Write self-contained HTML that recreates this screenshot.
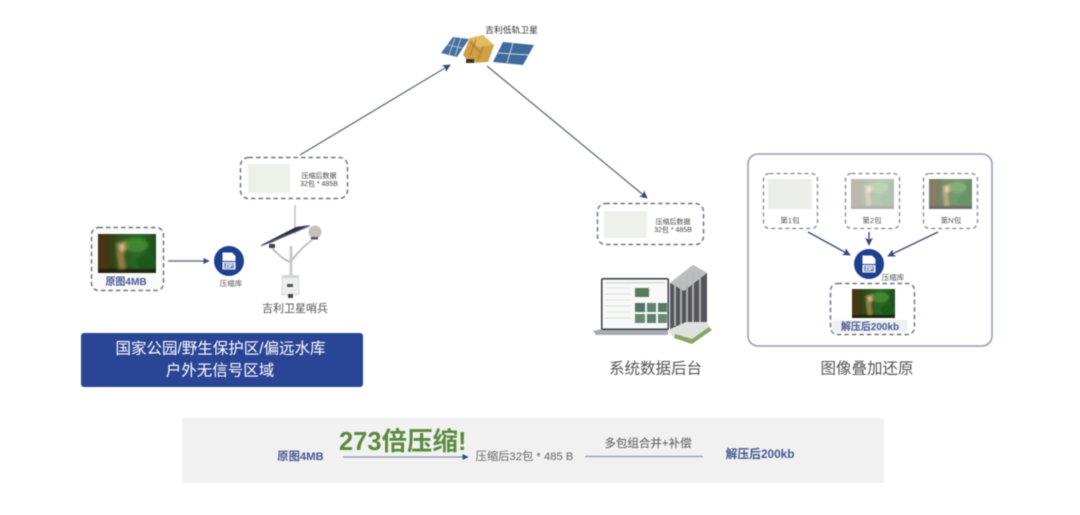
<!DOCTYPE html>
<html lang="zh">
<head>
<meta charset="utf-8">
<title>吉利低轨卫星图像压缩传输</title>
<style>
html,body{margin:0;padding:0;background:#fff;width:1080px;height:515px;overflow:hidden}
svg{display:block;filter:blur(.5px)}
text{font-family:"Liberation Sans","Noto Sans CJK SC",sans-serif}
</style>
</head>
<body>
<svg xmlns="http://www.w3.org/2000/svg" width="1080" height="515" viewBox="0 0 1080 515">
<defs>
<linearGradient id="fg" x1="0" x2="1" y1="0" y2="0">
<stop offset="0" stop-color="#2c2a12"/><stop offset=".35" stop-color="#33501a"/><stop offset=".7" stop-color="#2a6a26"/><stop offset="1" stop-color="#1d4d1c"/>
</linearGradient>
<filter id="b1"><feGaussianBlur stdDeviation="1.200"/></filter>
<symbol id="forest" viewBox="0 0 58 39" preserveAspectRatio="none">
<rect width="58" height="39" fill="url(#fg)"/>
<g filter="url(#b1)">
<rect x="0" y="0" width="11" height="39" fill="#4a3616"/>
<ellipse cx="38" cy="11" rx="12" ry="7" fill="#43862f"/>
<ellipse cx="48" cy="28" rx="10" ry="7" fill="#1d5a1e"/>
<path d="M18 9L28 6L30 14L26 20L28 34L21 36L19 22Z" fill="#8f7a42"/>
<path d="M21 11l5-2 1 6-4 3z" fill="#c9bb88"/>
<rect x="0" y="35" width="58" height="4" fill="#1a1a0c"/>
</g>
</symbol>
<symbol id="zip" viewBox="0 0 30 30">
<circle cx="15" cy="15" r="15" fill="#1f3f8f"/>
<path d="M8.500 6.500H18L21.500 10V15H8.500Z" fill="#fff"/>
<rect x="8.500" y="16" width="13" height="7.500" fill="#fff"/>
<rect x="10" y="17" width="10" height="5.500" fill="#7d8bb5"/>
<text x="15" y="21.700" font-size="5" font-weight="700" text-anchor="middle" fill="#fff">ZIP</text>
</symbol>
<marker id="ah" viewBox="0 0 10 10" refX="9" refY="5" markerWidth="6" markerHeight="6" orient="auto" markerUnits="userSpaceOnUse"><path d="M0 0L10 5L0 10Z" fill="#2f4590"/></marker>
<marker id="ah2" viewBox="0 0 10 10" refX="9" refY="5" markerWidth="8" markerHeight="8" orient="auto" markerUnits="userSpaceOnUse"><path d="M0 0L10 5L0 10L2.500 5Z" fill="#34457f"/></marker>
</defs>

<rect width="1080" height="515" fill="#fff"/>

<!-- connectors: uplink/downlink -->
<line x1="300" y1="155" x2="450" y2="65" stroke="#5f6a80" stroke-width="1.300" marker-end="url(#ah2)"/>
<line x1="487" y1="66" x2="647" y2="198" stroke="#5f6a80" stroke-width="1.300" marker-end="url(#ah2)"/>
<line x1="295" y1="205" x2="295" y2="234" stroke="#b4b9c0" stroke-width="1.300"/>

<!-- satellite -->
<g>
<polygon points="441,53 453,37 469,39 457,57" fill="#47719f"/>
<path d="M447 45L463 48M455 38L449 55M461 38L455 56" stroke="#c4d3e2" stroke-width=".8"/>
<polygon points="493,62 503,42 534,45 523,65" fill="#3f6a9b"/>
<path d="M498 53L529 55M513 43L507 63" stroke="#cfdbe7" stroke-width="1"/>
<polygon points="463,55 470,38 483,35 494,45 488,62 470,63" fill="#cf9f45"/>
<polygon points="470,38 483,35 494,45 478,47" fill="#e2bb68"/>
<path d="M470 42L480 52M476 39L470 56M483 47L478 60" stroke="#a87a28" stroke-width=".9"/>
<rect x="466" y="59" width="8" height="4" fill="#3a3424"/>
</g>
<text x="511.500" y="33" font-size="8.800" text-anchor="middle" fill="#333">吉利低轨卫星</text>

<!-- compressed box 1 -->
<rect x="240.500" y="157.500" width="107" height="41" rx="8" fill="#fff" stroke="#6e7686" stroke-width="1.500" stroke-dasharray="4.500 3"/>
<rect x="248" y="164" width="42" height="29" fill="#eef1ea"/>
<text x="319" y="178" font-size="7" text-anchor="middle" fill="#444">压缩后数据</text>
<text x="319" y="186" font-size="7" text-anchor="middle" fill="#444">32包 * 485B</text>

<!-- original box -->
<rect x="91.500" y="227.500" width="72" height="63" rx="7" fill="#fafafb" stroke="#6e7686" stroke-width="1.500" stroke-dasharray="4.500 3"/>
<use href="#forest" x="98" y="234" width="58" height="39"/>
<text x="126" y="285" font-size="10" font-weight="700" text-anchor="middle" fill="#4a578f">原图4MB</text>
<line x1="168" y1="261" x2="209" y2="261" stroke="#6b7690" stroke-width="1.400" marker-end="url(#ah)"/>
<use href="#zip" x="214" y="246" width="30" height="30"/>
<text x="231" y="286" font-size="7.500" text-anchor="middle" fill="#555">压缩库</text>

<!-- sentinel device -->
<g>
<path d="M291 297V246" stroke="#c8ccd0" stroke-width="3"/>
<path d="M291 262C283 260 278 254 272 248M292 260C298 252 304 246 312 240" fill="none" stroke="#bcc1c6" stroke-width="2"/>
<polygon points="261,245 296,227 310,225 271,243" fill="#2c3242"/>
<line x1="261" y1="246" x2="310" y2="226" stroke="#6c7484" stroke-width="1"/>
<circle cx="315" cy="232" r="6.500" fill="#c5c2ba"/>
<rect x="311" y="237" width="7" height="2.500" fill="#555"/>
<rect x="269" y="244" width="6" height="4" fill="#444"/>
<rect x="282" y="276" width="17" height="19" fill="#eceef0" stroke="#c8ccd0" stroke-width=".6"/>
<rect x="283" y="275" width="15" height="3" fill="#d0d3d6"/>
<rect x="287" y="284" width="6" height="3" fill="#555"/>
<rect x="288" y="294" width="5" height="4" fill="#444"/>
</g>
<text x="295" y="312" font-size="11" text-anchor="middle" fill="#555">吉利卫星哨兵</text>

<!-- blue banner -->
<rect x="81" y="333" width="282" height="54" rx="3" fill="#2a4595"/>
<text x="220.500" y="353.500" font-size="15.500" text-anchor="middle" fill="#fff">国家公园/野生保护区/偏远水库</text>
<text x="220" y="375.500" font-size="15.500" text-anchor="middle" fill="#fff">户外无信号区域</text>

<!-- compressed box 2 -->
<rect x="597.500" y="203.500" width="106" height="41" rx="8" fill="#fff" stroke="#6e7686" stroke-width="1.500" stroke-dasharray="4.500 3"/>
<rect x="604" y="211" width="43" height="27" fill="#eef1ea"/>
<text x="673" y="224" font-size="7" text-anchor="middle" fill="#444">压缩后数据</text>
<text x="673" y="232" font-size="7" text-anchor="middle" fill="#444">32包 * 485B</text>

<!-- laptop and building -->
<g>
<polygon points="593,331 601,329 668,329 668,335 596,335" fill="#a9adb2"/>
<rect x="601" y="278" width="68" height="52" rx="2" fill="#3a3c42"/>
<rect x="602.500" y="279.500" width="65" height="49" fill="#f7f8f7"/>
<rect x="605" y="282" width="60" height="1.500" fill="#d8dcd8"/>
<path d="M605 288h26M605 294h26M605 300h26M605 306h26M605 312h26M605 318h26" stroke="#e0e2e0"/>
<rect x="635" y="288" width="14" height="9" fill="#5a7a5a"/>
<rect x="635" y="303" width="10" height="9" fill="#4f7468"/>
<rect x="647" y="303" width="9" height="9" fill="#5f8270"/>
<rect x="658" y="303" width="9" height="9" fill="#567a66"/>
<rect x="635" y="314" width="10" height="9" fill="#688a74"/>
<rect x="647" y="314" width="9" height="9" fill="#5f8270"/>
<rect x="658" y="314" width="9" height="9" fill="#688a74"/>
<polygon points="670,283 693,265 707,273 707,325 670,330" fill="#55555a"/>
<polygon points="670,283 693,265 707,273 684,291" fill="#bcbec0"/>
<path d="M675 285V326M681 280V326M687 275V326M693 271V326M700 271V326" stroke="#b5b7ba" stroke-width="1.800"/>
<polygon points="668,330 686,322 707,322 711,330 692,343 672,336" fill="#dfe1df"/>
<polygon points="674,338 692,344 712,330 709,327 692,339 675,334" fill="#8aa566"/>
</g>
<text x="655.500" y="373.500" font-size="15.500" text-anchor="middle" fill="#555">系统数据后台</text>

<!-- restoration panel -->
<rect x="748" y="154" width="244" height="192" rx="10" fill="#fff" stroke="#8f9bb8" stroke-width="1.500"/>
<rect x="763.500" y="173.500" width="54" height="55" rx="6" fill="#fff" stroke="#7e8590" stroke-width="1.300" stroke-dasharray="4 3"/>
<rect x="845.500" y="173.500" width="54" height="55" rx="6" fill="#fff" stroke="#7e8590" stroke-width="1.300" stroke-dasharray="4 3"/>
<rect x="923.500" y="173.500" width="54" height="55" rx="6" fill="#fff" stroke="#7e8590" stroke-width="1.300" stroke-dasharray="4 3"/>
<rect x="768" y="179" width="44" height="30" fill="#ecefe9"/>
<use href="#forest" x="851" y="179" width="43" height="30" opacity=".35"/>
<use href="#forest" x="929" y="179" width="43" height="30" opacity=".65"/>
<text x="790" y="223" font-size="7.500" text-anchor="middle" fill="#555">第1包</text>
<text x="872" y="223" font-size="7.500" text-anchor="middle" fill="#555">第2包</text>
<text x="951" y="223" font-size="7.500" text-anchor="middle" fill="#555">第N包</text>
<line x1="808" y1="232" x2="850" y2="255" stroke="#3f4d7c" stroke-width="1.400" marker-end="url(#ah2)"/>
<line x1="869" y1="232" x2="869" y2="245" stroke="#3f4d7c" stroke-width="1.400" marker-end="url(#ah2)"/>
<line x1="938" y1="232" x2="888" y2="256" stroke="#3f4d7c" stroke-width="1.400" marker-end="url(#ah2)"/>
<use href="#zip" x="854" y="249" width="30" height="30"/>
<text x="893" y="280" font-size="7.500" text-anchor="middle" fill="#555">压缩库</text>
<rect x="830.500" y="283.500" width="84" height="51" rx="7" fill="#fff" stroke="#6e7686" stroke-width="1.500" stroke-dasharray="4.500 3"/>
<use href="#forest" x="852" y="289" width="43" height="29"/>
<rect x="832" y="320" width="75" height="12" fill="#eff0f2"/>
<text x="870" y="330" font-size="10" font-weight="700" text-anchor="middle" fill="#4a578f">解压后200kb</text>
<text x="867" y="373.500" font-size="15.500" text-anchor="middle" fill="#555">图像叠加还原</text>

<!-- bottom bar -->
<rect x="182" y="418" width="702" height="65" rx="2" fill="#f1f1f2"/>
<text x="300.500" y="460" font-size="11.300" font-weight="700" text-anchor="middle" fill="#4a578f">原图4MB</text>
<text x="339" y="450" font-size="25.500" font-weight="700" fill="#5a8a3c">273倍压缩!</text>
<line x1="343" y1="457" x2="468" y2="457" stroke="#8b95b4" stroke-width="1.300" marker-end="url(#ah)"/>
<text x="524.500" y="460" font-size="11.300" text-anchor="middle" fill="#666">压缩后32包 * 485 B</text>
<line x1="585" y1="456.500" x2="703" y2="456.500" stroke="#8b95b4" stroke-width="1.300"/>
<text x="648" y="447" font-size="11.500" text-anchor="middle" fill="#555">多包组合并+补偿</text>
<text x="760" y="458" font-size="11.800" font-weight="700" text-anchor="middle" fill="#4a578f">解压后200kb</text>
</svg>
</body>
</html>
